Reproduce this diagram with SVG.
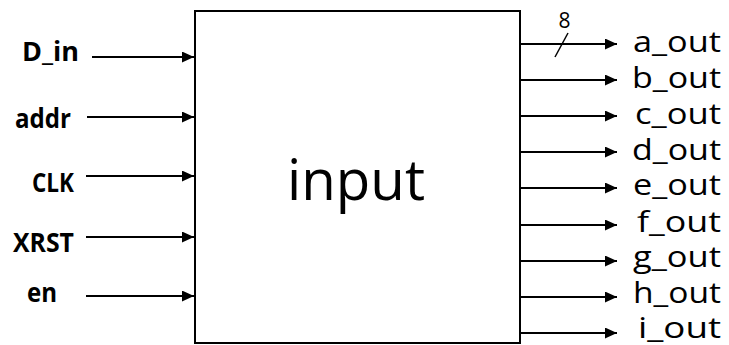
<svg xmlns="http://www.w3.org/2000/svg" width="729" height="345" viewBox="0 0 729 345">
<style>
.in{font-family:"Open Sans","Liberation Sans",sans-serif;font-weight:700;font-size:26px;fill:#000}
.out{font-family:"Open Sans","Liberation Sans",sans-serif;font-size:29px;fill:#000;text-anchor:end}
.w{stroke:#000;stroke-width:2;fill:none}
</style>
<defs>
<marker id="ah" markerUnits="userSpaceOnUse" markerWidth="13" markerHeight="12" refX="12" refY="5.5" orient="auto">
<path d="M0,0 L12,5.5 L0,11 z" fill="#000"/>
</marker>
</defs>
<rect width="729" height="345" fill="#fff"/>
<g id="block">
<rect x="195" y="11" width="325" height="332" fill="#fff" stroke="#000" stroke-width="2"/>
<text x="356" y="200" font-family="Open Sans, Liberation Sans, sans-serif" font-size="56" text-anchor="middle" textLength="138" lengthAdjust="spacingAndGlyphs">input</text>
</g>
<g id="inputs">
<text class="in" x="22" y="61" textLength="57" lengthAdjust="spacingAndGlyphs">D_in</text>
<text class="in" x="15" y="128" textLength="56" lengthAdjust="spacingAndGlyphs">addr</text>
<text class="in" x="32" y="192" textLength="42" lengthAdjust="spacingAndGlyphs">CLK</text>
<text class="in" x="13" y="252" textLength="61" lengthAdjust="spacingAndGlyphs">XRST</text>
<text class="in" x="27" y="302" textLength="30" lengthAdjust="spacingAndGlyphs">en</text>
</g>
<g id="outputs">
<text class="out" x="721" y="52" textLength="88" lengthAdjust="spacingAndGlyphs">a_out</text>
<text class="out" x="721" y="88" textLength="89" lengthAdjust="spacingAndGlyphs">b_out</text>
<text class="out" x="721" y="124" textLength="86" lengthAdjust="spacingAndGlyphs">c_out</text>
<text class="out" x="721" y="160" textLength="89" lengthAdjust="spacingAndGlyphs">d_out</text>
<text class="out" x="721" y="195" textLength="88" lengthAdjust="spacingAndGlyphs">e_out</text>
<text class="out" x="721" y="232" textLength="84" lengthAdjust="spacingAndGlyphs">f_out</text>
<text class="out" x="721" y="267" textLength="88" lengthAdjust="spacingAndGlyphs">g_out</text>
<text class="out" x="721" y="303" textLength="88" lengthAdjust="spacingAndGlyphs">h_out</text>
<text class="out" x="721" y="338" textLength="83" lengthAdjust="spacingAndGlyphs">i_out</text>
<text x="564.5" y="28" font-family="Open Sans, Liberation Sans, sans-serif" font-size="21" text-anchor="middle">8</text>
</g>
<g id="connectors" class="w">
<line x1="92" y1="57" x2="194" y2="57" marker-end="url(#ah)"/>
<line x1="87" y1="117" x2="194" y2="117" marker-end="url(#ah)"/>
<line x1="86" y1="176" x2="194" y2="176" marker-end="url(#ah)"/>
<line x1="86" y1="237" x2="194" y2="237" marker-end="url(#ah)"/>
<line x1="86" y1="296" x2="194" y2="296" marker-end="url(#ah)"/>
<line x1="520" y1="44" x2="617" y2="44" marker-end="url(#ah)"/>
<line x1="520" y1="80" x2="617" y2="80" marker-end="url(#ah)"/>
<line x1="520" y1="116" x2="617" y2="116" marker-end="url(#ah)"/>
<line x1="520" y1="152" x2="617" y2="152" marker-end="url(#ah)"/>
<line x1="520" y1="188" x2="617" y2="188" marker-end="url(#ah)"/>
<line x1="520" y1="225" x2="617" y2="225" marker-end="url(#ah)"/>
<line x1="520" y1="261" x2="617" y2="261" marker-end="url(#ah)"/>
<line x1="520" y1="297" x2="617" y2="297" marker-end="url(#ah)"/>
<line x1="520" y1="333" x2="617" y2="333" marker-end="url(#ah)"/>
<line x1="555" y1="57" x2="568" y2="33" stroke-width="1.5"/>
</g>
</svg>
